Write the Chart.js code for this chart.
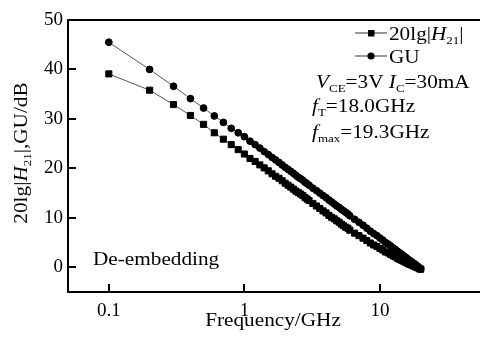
<!DOCTYPE html>
<html>
<head>
<meta charset="utf-8">
<script src="https://cdn.jsdelivr.net/npm/chart.js@4"></script>
<style>
  body { margin: 0; background: #fff; }
  #wrap { width: 480px; height: 343px; position: relative; }
</style>
</head>
<body>
<div id="wrap"><canvas id="gainChart"></canvas></div>
<script>
// Tần số đo (GHz)
const freqs = [
    0.1, 0.2, 0.3, 0.4, 0.5, 0.6, 0.7, 0.8, 0.9, 1.0,
    1.1, 1.2, 1.3, 1.4, 1.5, 1.6, 1.7, 1.8, 1.9, 2.0,
    2.1, 2.2, 2.3, 2.4, 2.5, 2.6, 2.7, 2.8, 2.9, 3.0,
    3.2, 3.4, 3.6, 3.8, 4.0, 4.2, 4.4, 4.6, 4.8, 5.0,
    5.2, 5.4, 5.6, 5.8, 6.0,
    6.5, 7.0, 7.5, 8.0, 8.5, 9.0, 9.5, 10, 10.5, 11,
    11.5, 12, 12.5, 13, 13.5, 14, 14.5, 15, 15.5, 16,
    16.5, 17, 17.5, 18, 18.5, 19, 19.5, 20
];

// 20lg|H21| (dB)
const h21 = [
    39.1, 35.8, 32.9, 30.7, 28.9, 27.2, 25.9, 24.8, 23.8, 22.9,
    22.0, 21.4, 20.7, 20.1, 19.5, 18.9, 18.4, 18.0, 17.5, 17.0,
    16.6, 16.2, 15.8, 15.4, 15.1, 14.8, 14.5, 14.1, 13.8, 13.5,
    12.9, 12.4, 11.9, 11.4, 11.0, 10.5, 10.1, 9.8, 9.4, 9.1,
    8.7, 8.4, 8.1, 7.9, 7.5,
    6.9, 6.4, 5.9, 5.4, 4.9, 4.5, 4.2, 3.8, 3.5, 3.1,
    2.9, 2.6, 2.3, 2.1, 1.8, 1.6, 1.4, 1.2, 1.0, 0.8,
    0.6, 0.5, 0.3, 0.2, 0.0, -0.1, -0.3, -0.4
];

// GU (dB)
const gu = [
    45.5, 40.0, 36.6, 34.1, 32.2, 30.6, 29.3, 28.1, 27.2, 26.4,
    25.5, 24.8, 24.1, 23.4, 22.8, 22.2, 21.7, 21.2, 20.7, 20.2,
    19.8, 19.4, 19.0, 18.6, 18.2, 17.9, 17.6, 17.2, 16.9, 16.6,
    16.0, 15.5, 15.0, 14.5, 14.1, 13.6, 13.2, 12.8, 12.4, 12.1,
    11.7, 11.4, 11.1, 10.8, 10.4,
    9.7, 9.1, 8.5, 7.9, 7.3, 6.8, 6.4, 5.9, 5.5, 5.0,
    4.7, 4.3, 3.9, 3.6, 3.2, 2.9, 2.6, 2.3, 2.0, 1.7,
    1.4, 1.2, 0.9, 0.7, 0.4, 0.2, -0.1, -0.3
];

const xTicks = [0.1, 1, 10];
const yTicks = [0, 10, 20, 30, 40, 50];

const SERIF = '"Liberation Serif", "DejaVu Serif", serif';
const STRETCH = 1.18;

// vẽ chữ có chỉ số dưới / in nghiêng (kéo giãn ngang như bản gốc)
function richText(ctx, x, y, parts, align) {
    const fontOf = p => p[1] === 'i' ? 'italic 18px ' + SERIF : (p[1] === 's' ? '11px ' + SERIF : '18px ' + SERIF);
    let w = 0;
    parts.forEach(p => { ctx.font = fontOf(p); w += ctx.measureText(p[0]).width; });
    ctx.save();
    ctx.translate(align === 'center' ? x - w * STRETCH / 2 : x, y);
    ctx.scale(STRETCH, 1);
    ctx.textAlign = 'left';
    ctx.textBaseline = 'alphabetic';
    let cx = 0;
    parts.forEach(p => {
        ctx.font = fontOf(p);
        ctx.fillText(p[0], cx, p[1] === 's' ? 4 : 0);
        cx += ctx.measureText(p[0]).width;
    });
    ctx.restore();
}

const decoPlugin = {
    id: 'deco',
    afterDraw(chart) {
        const ctx = chart.ctx;
        const a = chart.chartArea;
        const xs = chart.scales.x;
        const ys = chart.scales.y;
        ctx.save();
        ctx.fillStyle = '#000';
        ctx.strokeStyle = '#000';

        // khung (không có cạnh phải)
        ctx.lineWidth = 2;
        ctx.beginPath();
        ctx.moveTo(chart.width, a.top);
        ctx.lineTo(a.left, a.top);
        ctx.lineTo(a.left, a.bottom);
        ctx.lineTo(chart.width, a.bottom);
        ctx.stroke();

        // vạch chia hướng vào trong
        ctx.beginPath();
        xTicks.forEach(v => {
            const px = Math.round(xs.getPixelForValue(v));
            ctx.moveTo(px, a.bottom);
            ctx.lineTo(px, a.bottom - 8);
        });
        yTicks.forEach(v => {
            const py = Math.round(ys.getPixelForValue(v));
            ctx.moveTo(a.left, py);
            ctx.lineTo(a.left + 8, py);
        });
        ctx.stroke();

        // chú giải
        ctx.lineWidth = 1;
        ctx.strokeStyle = '#333';
        ctx.beginPath();
        ctx.moveTo(355, 33); ctx.lineTo(387, 33);
        ctx.moveTo(355, 56); ctx.lineTo(387, 56);
        ctx.stroke();
        ctx.fillRect(368, 30, 6.5, 6.5);
        ctx.beginPath();
        ctx.arc(371, 56, 3.6, 0, Math.PI * 2);
        ctx.fill();

        richText(ctx, 389, 40, [['20lg|', 'n'], ['H', 'i'], ['21', 's'], ['|', 'n']]);
        richText(ctx, 389, 63, [['GU', 'n']]);
        richText(ctx, 316, 88, [['V', 'i'], ['CE', 's'], ['=3V ', 'n'], ['I', 'i'], ['C', 's'], ['=30mA', 'n']]);
        richText(ctx, 312, 112, [['f', 'i'], ['T', 's'], ['=18.0GHz', 'n']]);
        richText(ctx, 312, 138, [['f', 'i'], ['max', 's'], ['=19.3GHz', 'n']]);
        richText(ctx, 93, 265, [['De-embedding', 'n']]);

        // tiêu đề trục
        richText(ctx, 273, 326, [['Frequency/GHz', 'n']], 'center');
        ctx.translate(27, 153);
        ctx.rotate(-Math.PI / 2);
        richText(ctx, 0, 0, [['20lg|', 'n'], ['H', 'i'], ['21', 's'], ['|,GU/dB', 'n']], 'center');
        ctx.restore();
    }
};

const ctx = document.getElementById('gainChart').getContext('2d');
const gainChart = new Chart(ctx, {
    type: 'line',
    data: {
        datasets: [{
            label: '20lg|H21|',
            data: freqs.map((f, i) => ({ x: f, y: h21[i] })),
            borderColor: '#555',
            borderWidth: 1,
            pointStyle: 'rect',
            pointRadius: 4.3,
            pointBorderWidth: 1,
            pointBackgroundColor: '#000',
            pointBorderColor: '#000',
            tension: 0
        }, {
            label: 'GU',
            data: freqs.map((f, i) => ({ x: f, y: gu[i] })),
            borderColor: '#555',
            borderWidth: 1,
            pointStyle: 'circle',
            pointRadius: 3.4,
            pointBorderWidth: 1,
            pointBackgroundColor: '#000',
            pointBorderColor: '#000',
            tension: 0
        }]
    },
    options: {
        responsive: true,
        maintainAspectRatio: false,
        animation: false,
        layout: { padding: { top: 20, right: 0, left: 0, bottom: 0 } },
        plugins: {
            legend: { display: false },
            tooltip: { enabled: false }
        },
        scales: {
            x: {
                type: 'logarithmic',
                min: 0.05,
                max: 50,
                afterBuildTicks: scale => { scale.ticks = xTicks.map(v => ({ value: v })); },
                afterFit: scale => {
                    scale.height = 51;
                    scale.paddingLeft = 0;
                    scale.paddingRight = 0;
                },
                grid: { display: false, drawTicks: false },
                border: { display: false },
                ticks: {
                    padding: 8,
                    color: '#000',
                    font: { family: SERIF, size: 19 },
                    maxRotation: 0,
                    autoSkip: false,
                    callback: v => String(v)
                }
            },
            y: {
                min: -5,
                max: 50,
                afterBuildTicks: scale => { scale.ticks = yTicks.map(v => ({ value: v })); },
                afterFit: scale => {
                    scale.width = 68;
                    scale.paddingTop = 0;
                    scale.paddingBottom = 0;
                },
                grid: { display: false, drawTicks: false },
                border: { display: false },
                ticks: {
                    padding: 5,
                    color: '#000',
                    font: { family: SERIF, size: 19 }
                }
            }
        }
    },
    plugins: [decoPlugin]
});
</script>
</body>
</html>
